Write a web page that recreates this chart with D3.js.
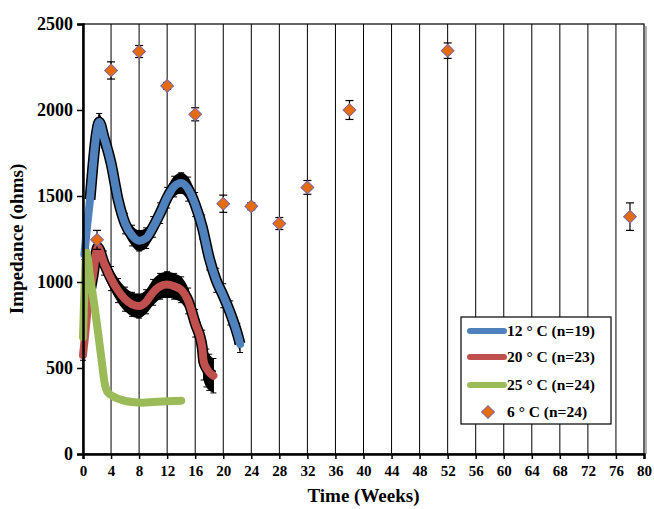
<!DOCTYPE html>
<html>
<head>
<meta charset="utf-8">
<script src="https://cdn.jsdelivr.net/npm/d3@7"></script>
<style>
  body { margin: 0; background: #fff; }
  svg text { font-family: "Liberation Serif", "Times New Roman", "DejaVu Serif", serif; font-weight: bold; fill: #000; }
</style>
</head>
<body>
<svg id="chart" width="654" height="509"></svg>
<script>
// 12 C curve (weeks, ohms, error)
const weeks12 = [0.2, 0.6, 1, 1.4, 1.9, 2.3, 3, 4, 5, 6, 7, 8, 9, 10, 11, 12, 13, 14, 15, 16, 17, 18, 19, 20, 21, 22, 22.4];
const vals12  = [1160, 1330, 1480, 1670, 1860, 1930, 1840, 1690, 1480, 1340, 1270, 1240, 1255, 1320, 1400, 1490, 1555, 1575, 1540, 1450, 1320, 1140, 1010, 920, 820, 700, 640];
const err12   = [30, 30, 30, 30, 40, 50, 60, 60, 60, 60, 60, 60, 60, 60, 60, 60, 60, 60, 70, 70, 70, 70, 70, 70, 70, 60, 50];

// 20 C curve
const weeks20 = [0, 0.3, 0.8, 1.4, 2.1, 3, 4, 5, 6, 7, 8, 9, 10, 11, 12, 13, 14, 15, 16, 17, 17.2, 17.6, 18, 18.6];
const vals20  = [575, 690, 900, 1030, 1200, 1110, 1020, 950, 900, 870, 860, 885, 940, 975, 985, 975, 955, 890, 760, 620, 540, 500, 475, 455];
const err20   = [30, 40, 50, 60, 60, 70, 70, 70, 70, 70, 70, 70, 75, 75, 75, 75, 75, 75, 80, 100, 110, 110, 105, 100];

// 25 C curve
const weeks25 = [0, 0.2, 0.5, 1, 1.6, 2.2, 2.7, 3.1, 3.5, 4.5, 5.5, 7, 8.5, 10, 12, 14];
const vals25  = [680, 950, 1170, 1030, 870, 690, 530, 410, 360, 330, 315, 302, 298, 302, 306, 310];
const err25   = [15, 15, 15, 15, 15, 15, 15, 15, 10, 10, 10, 10, 10, 10, 10, 10];

// 6 C points
const weeks6 = [2, 4, 8, 12, 16, 20, 24, 28, 32, 38, 52, 78];
const vals6  = [1245, 2230, 2340, 2140, 1975, 1455, 1440, 1340, 1550, 2000, 2345, 1380];
const err6   = [55, 50, 35, 20, 38, 50, 20, 35, 40, 55, 45, 80];

const xTicks = d3.range(0, 81, 4);
const yTicks = [0, 500, 1000, 1500, 2000, 2500];

const curves = [
  { label: "12 ° C (n=19)", color: "#4F81BD", w: weeks12, v: vals12, e: err12 },
  { label: "20 ° C (n=23)", color: "#C0504D", w: weeks20, v: vals20, e: err20 },
  { label: "25 ° C (n=24)", color: "#9BBB59", w: weeks25, v: vals25, e: err25 }
];

const svg = d3.select("#chart");
const m = { left: 83, top: 24, right: 10, bottom: 55 };
const W = 654 - m.left - m.right;
const H = 509 - m.top - m.bottom;

const x = d3.scaleLinear().domain([0, 80]).range([0, W]);
const y = d3.scaleLinear().domain([0, 2500]).range([H, 0]);

const g = svg.append("g").attr("transform", `translate(${m.left},${m.top})`);

// shadow on right edge
g.append("line")
  .attr("x1", W + 2).attr("x2", W + 2).attr("y1", 2).attr("y2", H)
  .attr("stroke", "#b0b0b0").attr("stroke-width", 2);

// vertical grid
g.append("g")
  .selectAll("line")
  .data(xTicks.filter(d => d > 0 && d < 80))
  .enter().append("line")
  .attr("x1", d => x(d)).attr("x2", d => x(d))
  .attr("y1", 0).attr("y2", H)
  .attr("stroke", "#000").attr("stroke-width", 1);

// frame
g.append("rect")
  .attr("width", W).attr("height", H)
  .attr("fill", "none").attr("stroke", "#000").attr("stroke-width", 1.2);

const line = d3.line().x(d => x(d.w)).y(d => y(d.v)).curve(d3.curveMonotoneX);

// curves with error bands
curves.forEach((c, ci) => {
  const pts = c.w.map((w, i) => ({ w: w, v: c.v[i], e: c.e[i] }));
  if (ci < 2) {
    g.append("path")
      .datum(pts)
      .attr("fill", "#000")
      .attr("d", d3.area()
        .x(d => x(d.w))
        .y0(d => y(d.v - d.e))
        .y1(d => y(d.v + d.e))
        .curve(d3.curveMonotoneX));
    g.append("path")
      .datum(pts.slice(2))
      .attr("fill", "none").attr("stroke", "#000").attr("stroke-width", 11)
      .attr("stroke-linejoin", "round")
      .attr("d", line);
  }

  // error bar caps
  const eb = g.append("g").attr("stroke", "#000").attr("stroke-width", 1);
  pts.forEach(d => {
    eb.append("line").attr("x1", x(d.w)).attr("x2", x(d.w)).attr("y1", y(d.v - d.e)).attr("y2", y(d.v + d.e));
    eb.append("line").attr("x1", x(d.w) - 3).attr("x2", x(d.w) + 3).attr("y1", y(d.v + d.e)).attr("y2", y(d.v + d.e));
    eb.append("line").attr("x1", x(d.w) - 3).attr("x2", x(d.w) + 3).attr("y1", y(d.v - d.e)).attr("y2", y(d.v - d.e));
  });
});

curves.forEach(c => {
  const pts = c.w.map((w, i) => ({ w: w, v: c.v[i] }));
  g.append("path")
    .datum(pts)
    .attr("fill", "none")
    .attr("stroke", c.color)
    .attr("stroke-width", 8)
    .attr("stroke-linecap", "round")
    .attr("stroke-linejoin", "round")
    .attr("d", line);
});

// 6 C points with error bars
const pts6 = weeks6.map((w, i) => ({ w: w, v: vals6[i], e: err6[i] }));
const p6 = g.append("g");
p6.selectAll("line.eb")
  .data(pts6).enter().append("line")
  .attr("x1", d => x(d.w)).attr("x2", d => x(d.w))
  .attr("y1", d => y(d.v - d.e)).attr("y2", d => y(d.v + d.e))
  .attr("stroke", "#000").attr("stroke-width", 1.2);
p6.selectAll("line.top")
  .data(pts6).enter().append("line")
  .attr("x1", d => x(d.w) - 4).attr("x2", d => x(d.w) + 4)
  .attr("y1", d => y(d.v + d.e)).attr("y2", d => y(d.v + d.e))
  .attr("stroke", "#000").attr("stroke-width", 1.2);
p6.selectAll("line.bot")
  .data(pts6).enter().append("line")
  .attr("x1", d => x(d.w) - 4).attr("x2", d => x(d.w) + 4)
  .attr("y1", d => y(d.v - d.e)).attr("y2", d => y(d.v - d.e))
  .attr("stroke", "#000").attr("stroke-width", 1.2);
const diamond = d3.symbol(d3.symbolSquare, 82);
p6.selectAll("path")
  .data(pts6).enter().append("path")
  .attr("d", diamond)
  .attr("transform", d => `translate(${x(d.w)},${y(d.v)}) rotate(45)`)
  .attr("fill", "#E46C0A")
  .attr("stroke", "#8064A2")
  .attr("stroke-width", 1);

// axes
const xAxis = g.append("g")
  .attr("transform", `translate(0,${H})`)
  .call(d3.axisBottom(x).tickValues(xTicks).tickSize(5).tickPadding(6));
xAxis.selectAll("text").style("font-size", "15px");

const yAxis = g.append("g")
  .call(d3.axisLeft(y).tickValues(yTicks).tickFormat(d3.format("d")).tickSize(6).tickPadding(4));
yAxis.selectAll("text").style("font-size", "18px");

[xAxis, yAxis].forEach(a => {
  a.attr("font-family", null).attr("font-size", null);
  a.select(".domain").attr("stroke", "#000").attr("stroke-width", 2.5);
  a.selectAll(".tick line").attr("stroke", "#000").attr("stroke-width", 1.5);
});

// axis titles
svg.append("text")
  .attr("x", m.left + W / 2).attr("y", 502)
  .attr("text-anchor", "middle").style("font-size", "19px")
  .text("Time (Weeks)");
svg.append("text")
  .attr("transform", `translate(23,${m.top + H / 2}) rotate(-90)`)
  .attr("text-anchor", "middle").style("font-size", "19px")
  .text("Impedance (ohms)");

// legend
const lg = svg.append("g").attr("transform", "translate(461,317)");
lg.append("rect").attr("width", 150).attr("height", 107)
  .attr("fill", "#fff").attr("stroke", "#000").attr("stroke-width", 1.2);
const rowY = [14, 40, 68, 95];
curves.forEach((c, i) => {
  lg.append("line")
    .attr("x1", 9).attr("x2", 43).attr("y1", rowY[i]).attr("y2", rowY[i])
    .attr("stroke", c.color).attr("stroke-width", 6).attr("stroke-linecap", "round");
  lg.append("text").attr("x", 46).attr("y", rowY[i] + 5)
    .style("font-size", "15.5px").text(c.label);
});
lg.append("path")
  .attr("d", diamond)
  .attr("transform", `translate(27,${rowY[3]}) rotate(45)`)
  .attr("fill", "#E46C0A").attr("stroke", "#8064A2").attr("stroke-width", 1);
lg.append("text").attr("x", 46).attr("y", rowY[3] + 5)
  .style("font-size", "15.5px").text("6 ° C (n=24)");
</script>
</body>
</html>
